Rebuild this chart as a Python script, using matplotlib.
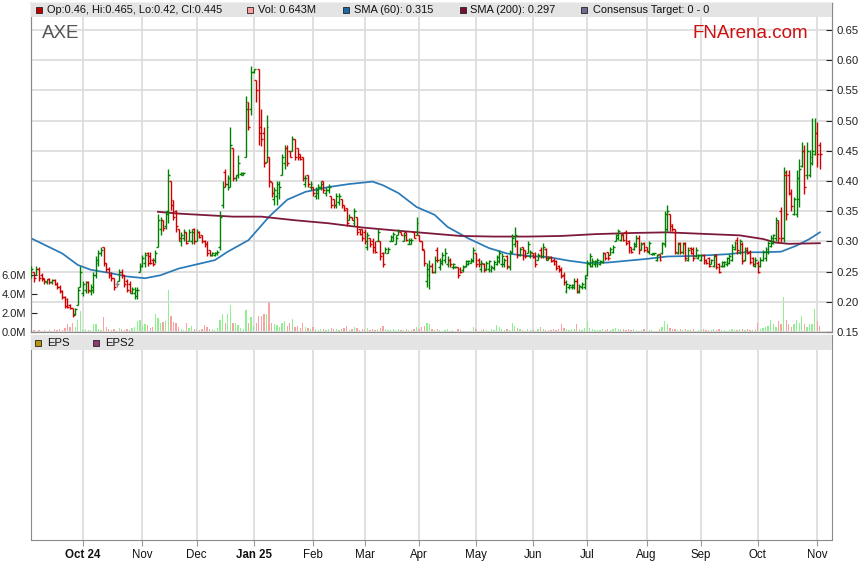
import matplotlib
matplotlib.use('Agg')
import matplotlib.pyplot as plt
from matplotlib.collections import LineCollection
from matplotlib.patches import Rectangle
import numpy as np
import pandas as pd

plt.rcParams['font.family'] = ['Liberation Sans', 'DejaVu Sans']

W, H = 859, 566

# торговые дни на графике
dates = pd.bdate_range('2024-09-03', '2025-11-04')

opens = [
    .245, .25, .245, .255, .245, .24, .233, .237, .232, .236,
    .23, .225, .218, .208, .205, .195, .19, .18, .195, .225,
    .215, .22, .232, .218, .22, .245, .265, .28, .29, .265,
    .255, .245, .24, .23, .235, .25, .245, .235, .23, .215,
    .215, .21, .25, .26, .265, .28, .275, .27, .27, .29,
    .32, .335, .325, .35, .40, .368, .35, .32, .30, .305,
    .315, .30, .30, .32, .30, .315, .31, .30, .295, .285,
    .277, .278, .28, .29, .36, .415, .395, .39, .455, .405,
    .41, .412, .41, .44, .53, .52, .58, .567, .585, .49,
    .48, .432, .44, .399, .37, .375, .38, .41, .43, .455,
    .45, .45, .47, .455, .445, .44, .395, .41, .39, .39,
    .375, .38, .39, .40, .38, .385, .375, .37, .36, .365,
    .37, .36, .355, .335, .34, .33, .34, .32, .32, .315,
    .29, .305, .30, .29, .30, .30, .28, .28, .28, .30,
    .30, .295, .31, .315, .30, .315, .295, .295, .315, .31,
    .31, .30, .285, .235, .245, .26, .25, .285, .258, .265,
    .27, .262, .27, .257, .257, .258, .255, .252, .26, .263,
    .265, .268, .28, .27, .255, .262, .255, .255, .252, .256,
    .263, .268, .262, .262, .275, .258, .283, .295, .30, .278,
    .29, .285, .28, .275, .28, .28, .27, .285, .275, .287,
    .27, .274, .27, .267, .26, .255, .245, .218, .224, .224,
    .225, .235, .216, .224, .225, .245, .262, .26, .262, .262,
    .263, .266, .28, .282, .278, .282, .30, .305, .302, .312,
    .315, .30, .29, .288, .292, .305, .287, .297, .29, .282,
    .279, .279, .27, .279, .28, .295, .32, .345, .328, .32,
    .28, .297, .282, .297, .27, .289, .288, .276, .272, .27,
    .278, .27, .272, .263, .26, .277, .262, .259, .26, .262,
    .264, .27, .288, .303, .282, .296, .27, .289, .283, .272,
    .26, .265, .26, .27, .272, .283, .293, .298, .305, .33,
    .35, .305, .41, .41, .38, .345, .345, .37, .425, .45,
    .41, .41, .43, .445, .48, .46,
]
highs = [
    .26, .25, .26, .258, .248, .24, .238, .24, .238, .237,
    .232, .227, .22, .21, .207, .197, .19, .19, .225, .26,
    .235, .235, .235, .23, .25, .275, .285, .29, .29, .265,
    .258, .25, .24, .235, .255, .255, .245, .238, .235, .225,
    .225, .225, .265, .278, .282, .282, .282, .272, .285, .345,
    .34, .335, .35, .42, .40, .368, .352, .32, .316, .32,
    .315, .32, .32, .322, .32, .318, .31, .302, .30, .285,
    .283, .283, .286, .35, .40, .42, .41, .49, .455, .41,
    .443, .415, .415, .54, .53, .59, .585, .567, .585, .52,
    .49, .509, .44, .399, .39, .40, .40, .445, .46, .46,
    .45, .475, .47, .455, .445, .44, .41, .41, .40, .39,
    .39, .395, .40, .40, .39, .395, .375, .37, .38, .38,
    .37, .36, .355, .345, .34, .355, .34, .32, .32, .32,
    .315, .305, .305, .30, .32, .30, .283, .29, .29, .31,
    .315, .31, .32, .315, .315, .315, .305, .305, .315, .34,
    .31, .30, .285, .265, .269, .264, .275, .291, .272, .283,
    .289, .275, .272, .264, .259, .258, .258, .261, .27, .27,
    .272, .29, .28, .272, .269, .264, .267, .27, .261, .269,
    .277, .286, .28, .272, .277, .286, .313, .324, .302, .291,
    .291, .286, .30, .286, .28, .283, .28, .291, .297, .289,
    .275, .275, .272, .269, .261, .258, .25, .236, .23, .23,
    .239, .239, .23, .233, .244, .269, .28, .272, .27, .272,
    .269, .283, .28, .283, .291, .294, .313, .32, .313, .313,
    .319, .302, .291, .299, .31, .31, .299, .299, .29, .301,
    .28, .28, .279, .279, .299, .351, .36, .346, .329, .321,
    .299, .299, .299, .299, .29, .29, .29, .29, .279, .279,
    .279, .271, .274, .271, .279, .279, .265, .268, .268, .274,
    .279, .296, .301, .307, .304, .299, .29, .29, .285, .274,
    .274, .268, .274, .285, .29, .301, .31, .313, .34, .335,
    .357, .424, .418, .419, .387, .373, .418, .437, .465, .459,
    .465, .451, .504, .504, .498, .465,
]
lows = [
    .24, .232, .245, .235, .235, .23, .23, .23, .23, .228,
    .222, .215, .205, .19, .19, .188, .175, .178, .194, .225,
    .21, .215, .215, .212, .215, .24, .26, .275, .26, .25,
    .24, .235, .22, .225, .235, .24, .225, .217, .215, .213,
    .205, .205, .25, .257, .258, .26, .262, .26, .265, .29,
    .31, .318, .32, .33, .352, .335, .316, .30, .292, .30,
    .295, .30, .295, .295, .30, .305, .298, .29, .275, .275,
    .275, .275, .278, .285, .355, .39, .385, .39, .40, .40,
    .405, .41, .41, .44, .485, .51, .578, .53, .46, .458,
    .424, .432, .39, .374, .36, .36, .37, .41, .42, .425,
    .44, .45, .435, .435, .435, .40, .39, .39, .385, .375,
    .37, .37, .385, .38, .375, .38, .355, .355, .355, .36,
    .355, .35, .325, .335, .335, .325, .31, .31, .30, .295,
    .285, .29, .28, .28, .30, .27, .258, .28, .28, .30,
    .30, .295, .31, .31, .30, .30, .295, .295, .305, .31,
    .30, .285, .26, .225, .222, .247, .247, .266, .253, .261,
    .264, .258, .258, .255, .256, .239, .247, .25, .258, .261,
    .264, .266, .258, .258, .25, .25, .253, .25, .25, .253,
    .261, .264, .258, .258, .255, .253, .28, .291, .272, .275,
    .269, .272, .28, .272, .272, .258, .269, .272, .272, .269,
    .269, .266, .261, .253, .25, .239, .228, .214, .222, .222,
    .222, .214, .214, .222, .222, .242, .258, .258, .258, .258,
    .261, .264, .269, .269, .277, .28, .30, .302, .30, .30,
    .294, .28, .28, .285, .29, .279, .285, .282, .282, .279,
    .278, .278, .268, .268, .279, .29, .318, .318, .318, .279,
    .279, .279, .279, .268, .268, .279, .268, .274, .271, .268,
    .262, .262, .257, .262, .257, .254, .247, .257, .257, .26,
    .262, .268, .285, .279, .279, .262, .268, .279, .262, .26,
    .257, .247, .257, .268, .268, .279, .29, .296, .301, .299,
    .299, .299, .335, .376, .351, .343, .34, .357, .423, .379,
    .404, .407, .426, .443, .423, .42,
]
closes = [
    .255, .24, .255, .24, .238, .235, .237, .233, .236, .23,
    .225, .218, .208, .193, .192, .19, .178, .188, .22, .25,
    .23, .232, .22, .225, .245, .27, .28, .285, .265, .255,
    .245, .24, .225, .23, .25, .245, .23, .22, .218, .222,
    .22, .22, .26, .272, .278, .265, .265, .262, .28, .335,
    .335, .322, .345, .41, .36, .34, .325, .305, .31, .315,
    .298, .315, .315, .30, .315, .308, .30, .295, .28, .278,
    .28, .28, .283, .34, .39, .395, .405, .46, .405, .41,
    .43, .413, .413, .52, .49, .58, .585, .55, .48, .47,
    .43, .49, .40, .38, .385, .395, .39, .44, .455, .43,
    .44, .47, .44, .44, .437, .405, .405, .395, .395, .38,
    .385, .39, .395, .385, .385, .39, .36, .36, .375, .375,
    .36, .352, .33, .34, .336, .35, .315, .312, .305, .30,
    .31, .295, .285, .283, .315, .275, .262, .288, .287, .308,
    .312, .305, .318, .311, .31, .302, .302, .303, .306, .33,
    .30, .288, .265, .255, .26, .25, .27, .27, .268, .278,
    .28, .27, .262, .262, .258, .245, .25, .258, .268, .268,
    .27, .285, .262, .262, .265, .253, .264, .267, .258, .266,
    .274, .28, .275, .27, .26, .282, .305, .31, .278, .288,
    .275, .275, .295, .283, .274, .262, .278, .275, .29, .272,
    .273, .268, .263, .256, .252, .243, .232, .23, .228, .228,
    .235, .218, .226, .23, .24, .265, .275, .268, .268, .27,
    .268, .28, .272, .272, .288, .29, .31, .318, .31, .302,
    .298, .285, .283, .296, .305, .285, .296, .285, .284, .297,
    .28, .28, .278, .27, .297, .345, .35, .325, .32, .282,
    .296, .282, .295, .272, .286, .281, .272, .286, .278, .277,
    .266, .264, .26, .269, .275, .258, .25, .266, .266, .272,
    .276, .29, .298, .285, .30, .268, .286, .281, .266, .263,
    .27, .25, .27, .282, .287, .298, .306, .31, .335, .305,
    .305, .415, .345, .38, .358, .37, .405, .42, .45, .39,
    .45, .44, .45, .48, .445, .445,
]
# объём, млн
volumes = [
    .15, .2, .1, .2, .15, .25, .1, .2, .15, .3,
    .2, .35, .25, .4, .8, .5, .9, .5, 1.3, 2.2,
    .2, .3, .2, .25, .8, .8, .3, .2, 1.6, .5,
    .3, .2, .3, .15, .4, .3, .25, .3, .2, .4,
    .5, 1.2, 1.3, .6, .8, .7, .4, .5, 1.9, 1.5,
    .9, 1.1, 1.2, 4.4, 1.7, 1.1, .9, .5, .3, .2,
    .9, .4, .6, .3, .3, .2, .3, .7, .5, .3,
    .3, .2, .4, 1.3, 1.9, 1.0, 1.9, 2.8, .9, 1.0,
    .7, .4, .3, 2.3, .9, 1.6, .6, .9, 1.7, 1.7,
    1.9, 1.9, 3.3, .9, .8, .7, .5, .9, 1.2, .6,
    .9, 1.4, .5, .6, .4, .9, .5, .4, .3, .5,
    .3, .2, .3, .3, .2, .3, .4, .3, .3, .2,
    .3, .4, .6, .2, .3, .5, .4, .2, .3, .3,
    .4, .2, .3, .2, .3, .4, .6, .3, .2, .2,
    .3, .2, .3, .2, .2, .3, .2, .2, .3, .5,
    .3, .5, .6, .9, .85, .3, .25, .3, .2, .15,
    .2, .3, .15, .2, .1, .3, .2, .15, .1, .15,
    .1, .5, .3, .15, .2, .35, .2, .15, .3, .2,
    .7, .5, .3, .2, .3, .2, 1.0, .6, .4, .3,
    .2, .15, .3, .25, .2, .15, .3, .5, .3, .2,
    .2, .25, .3, .2, .3, .85, .4, .3, .2, .35,
    .3, .85, .3, .2, .4, 1.15, .4, .3, .2, .25,
    .2, .3, .25, .3, .2, .3, .4, .35, .3, .3,
    .25, .35, .2, .3, .25, .15, .2, .3, .15, .2,
    .2, .1, .15, .3, .5, 1.2, .8, .4, .3, .35,
    .2, .3, .2, .3, .2, .25, .3, .15, .2, .2,
    .3, .2, .25, .2, .3, .25, .3, .2, .2, .15,
    .2, .3, .25, .2, .35, .3, .2, .3, .2, .25,
    .3, .9, .3, .4, .5, .6, 1.25, .8, .5, 1.2,
    .8, 3.7, 1.25, .8, .5, .8, 1.3, 1.0, 1.7, .8,
    .5, .8, .8, 2.4, 1.2, .643,
]

# скользящие средние (номер бара, значение)
sma60_bar = [0, 12, 18, 23, 30, 37, 44, 50, 57, 63, 71, 76, 84, 92, 99, 106, 115,
             123, 132, 136, 142, 149, 156, 161, 169, 177, 184, 192, 200, 208, 215,
             223, 233, 238, 246, 257, 270, 276, 283, 290, 296, 301, 305]
sma60_val = [.305, .28, .261, .253, .248, .242, .239, .244, .255, .261, .269, .283,
             .302, .341, .369, .382, .39, .395, .399, .393, .38, .357, .344, .324,
             .305, .289, .28, .276, .274, .268, .264, .265, .269, .271, .275, .276,
             .279, .282, .282, .283, .293, .304, .315]
sma200_bar = [49, 57, 78, 89, 102, 115, 128, 141, 155, 166, 179, 192, 205, 218, 233,
              246, 257, 274, 283, 288, 293, 305]
sma200_val = [.349, .346, .341, .341, .335, .33, .323, .318, .313, .309, .308, .308,
              .309, .312, .314, .315, .313, .31, .304, .298, .296, .297]

n = len(dates)
assert len(opens) == n and len(highs) == n and len(lows) == n and len(closes) == n
assert len(volumes) == n

x = np.arange(n)
o = np.array(opens)
h = np.array(highs)
l = np.array(lows)
c = np.array(closes)
up = c > o
dn = c < o
bar_col = np.where(up, '#008000', np.where(dn, '#d00000', '#808080'))
vol_col = np.where(up, '#8ef08e', np.where(dn, '#f7a3a3', '#8c8c8c'))

# начала месяцев
month_pos = [i for i in range(1, n) if dates[i].month != dates[i - 1].month]
month_lab = []
for k, i in enumerate(month_pos):
    d = dates[i]
    if k == 0 or d.month == 1:
        month_lab.append(d.strftime('%b %y'))
    else:
        month_lab.append(d.strftime('%b'))


def fx(px):
    return px / W


def fy(py):
    return 1 - py / H


fig = plt.figure(figsize=(W / 100, H / 100), dpi=100)
L, R = 30.5, 832
xlim = (-0.3, 309.7)
grid_col = '#dadada'
spine_col = '#8a8a8a'

# --- верхняя панель: объём (слева) и цена (справа)
axv = fig.add_axes([fx(L), fy(332), fx(R) - fx(L), fy(3) - fy(332)])
axp = axv.twinx()

axv.bar(x, volumes, width=0.5, color=vol_col, linewidth=0, zorder=2)
axv.set_xlim(*xlim)
axv.set_ylim(0, 329 / 9.5)
axv.set_yticks([0, 2, 4, 6])
axv.set_yticklabels(['0.0M', '2.0M', '4.0M', '6.0M'])
axv.yaxis.tick_left()
axv.tick_params(axis='y', direction='in', length=4, color='#222', labelsize=8,
                labelcolor='#222', pad=3)
axv.set_xticks(month_pos)
axv.tick_params(axis='x', length=0, labelbottom=False)
axv.grid(axis='x', color=grid_col, lw=1.2)
axv.set_axisbelow(True)

axp.set_xlim(*xlim)
axp.set_ylim(0.15, 0.15 + 329 / 604)
pt = np.arange(0.15, 0.651, 0.05)
axp.set_yticks(pt)
axp.set_yticklabels([f'{v:.2f}' for v in pt])
axp.yaxis.tick_right()
axp.tick_params(axis='y', direction='in', length=4, color='#222', labelsize=8.2,
                labelcolor='#222', pad=3)
axp.grid(axis='y', color=grid_col, lw=1.2, zorder=0)
axp.set_axisbelow(True)

segs = []
cols = []
for i in x:
    segs.append([(i, l[i]), (i, h[i])])
    segs.append([(i - 0.75, o[i]), (i, o[i])])
    segs.append([(i, c[i]), (i + 0.75, c[i])])
    cols += [bar_col[i]] * 3
axp.add_collection(LineCollection(segs, colors=cols, linewidths=1.0, zorder=3))

axp.plot(sma60_bar, sma60_val, color='#2a7ab8', lw=1.25, zorder=2.5)
axp.plot(sma200_bar, sma200_val, color='#7d1a3c', lw=1.3, zorder=2.5)

for a in (axv, axp):
    for s in a.spines.values():
        s.set_color(spine_col)

axp.add_patch(Rectangle((0, 1 - 14 / 329), 1, 14 / 329, transform=axp.transAxes,
                        facecolor='#e4e4e4', edgecolor='none', zorder=6, clip_on=False))

# --- нижняя панель EPS
eb = 540.0
axe = fig.add_axes([fx(L), fy(eb), fx(R) - fx(L), fy(334.5) - fy(eb)])
axe.set_xlim(*xlim)
axe.set_ylim(0, 1)
axe.set_yticks([])
axe.set_xticks(month_pos)
axe.set_xticklabels(month_lab)
axe.grid(axis='x', color=grid_col, lw=1.2)
axe.tick_params(axis='x', direction='out', length=4, color='#999', labelsize=8.3,
                labelcolor='#111', pad=2.5)
for lab in axe.get_xticklabels():
    lab.set_fontfamily(['Liberation Sans Narrow', 'Liberation Sans', 'DejaVu Sans'])
    if ' ' in lab.get_text():
        lab.set_fontweight('bold')
for s in axe.spines.values():
    s.set_color(spine_col)
eh = eb - 334.5
axe.add_patch(Rectangle((0, 1 - 15 / eh), 1, 15 / eh, transform=axe.transAxes,
                        facecolor='#e4e4e4', edgecolor='none', zorder=6))

# --- легенды
legend_top = [
    (35.7, '#c00000', 46.7, 'Op:0.46, Hi:0.465, Lo:0.42, Cl:0.445'),
    (246.7, '#ffa0a0', 258.3, 'Vol: 0.643M'),
    (343.3, '#1a6aaa', 354.5, 'SMA (60): 0.315'),
    (460.0, '#7a1030', 469.5, 'SMA (200): 0.297'),
    (581.0, '#6e6e90', 592.7, 'Consensus Target: 0 - 0'),
]
for sx, scol, tx, txt in legend_top:
    fig.add_artist(Rectangle((fx(sx), fy(13)), 6 / W, 6 / H, transform=fig.transFigure,
                             facecolor=scol, edgecolor='#222', lw=0.6, zorder=10))
    fig.text(fx(tx), fy(10), txt, ha='left', va='center', fontsize=7.95,
             color='#111', zorder=10)

legend_eps = [
    (35.0, '#b8960c', 46.7, 'EPS'),
    (93.0, '#8e3a6e', 105.0, 'EPS2'),
]
for sx, scol, tx, txt in legend_eps:
    fig.add_artist(Rectangle((fx(sx), fy(345.5)), 6 / W, 6 / H, transform=fig.transFigure,
                             facecolor=scol, edgecolor='#222', lw=0.6, zorder=10))
    fig.text(fx(tx), fy(342.5), txt, ha='left', va='center', fontsize=8.2,
             color='#111', zorder=10)

fig.text(fx(41.5), fy(33), 'AXE', ha='left', va='center', fontsize=13.5, color='#555555')
fig.text(fx(808), fy(33.5), 'FNArena.com', ha='right', va='center', fontsize=13.5,
         color='#cc1111')

fig.savefig('out.png', dpi=100)
